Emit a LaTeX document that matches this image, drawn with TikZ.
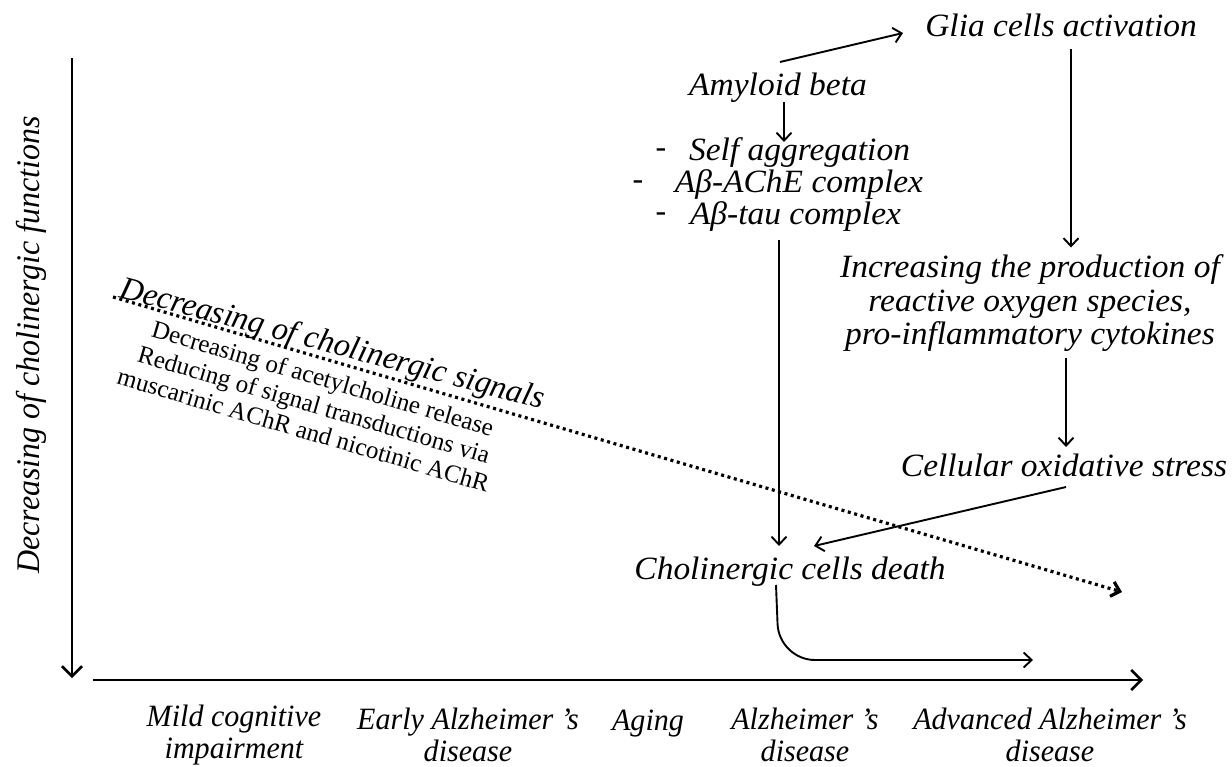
\documentclass[tikz,border=0pt]{standalone}
\usepackage{fontspec}
\setmainfont{Liberation Serif}
\newfontfamily\itf{Liberation Serif}[FakeStretch=1.03]
\newfontfamily\bof{Liberation Serif}[FakeStretch=1.0]
\newfontfamily\cof{Liberation Serif}[FakeStretch=0.97]
\usetikzlibrary{arrows.meta,calc}
\tikzset{
  lab/.style={inner sep=0pt, align=center, font=\itf\itshape\fontsize{32.5}{33.5}\selectfont},
  dsh/.style={inner sep=0pt, font=\bof\fontsize{32}{33}\selectfont},
  blab/.style={inner sep=0pt, align=center, font=\cof\itshape\fontsize{31}{32}\selectfont},
  sub/.style={inner sep=0pt, rotate=-16.3, anchor=base, font=\bof\fontsize{25}{27}\selectfont},
  ttl/.style={inner sep=0pt, rotate=-14.8, anchor=base, font=\bof\itshape\fontsize{32.5}{34}\selectfont},
  arr/.style={-{Straight Barb[length=8pt,width=15pt]}, line width=1.9pt},
  ax/.style={-{Straight Barb[length=10pt,width=20pt]}, line width=2.6pt},
  dotl/.style={-{Straight Barb[length=8pt,width=15pt]}, line width=3.2pt, dash pattern=on 3pt off 3.6pt},
}
\begin{document}
\begin{tikzpicture}[x=1pt,y=-1pt]
\useasboundingbox (0,0) rectangle (1232,766);
% axes
\coordinate (ytop) at (72,58);
\coordinate (ybot) at (72,678);
\coordinate (xl) at (93,680);
\coordinate (xr) at (1143,680);
\draw[ax] (ytop) -- (ybot);
\draw[ax] (xl) -- (xr);
\node[inner sep=0pt, rotate=90, font=\cof\itshape\fontsize{33}{34}\selectfont] (ylab) at (31,345) {Decreasing of cholinergic functions};
% bottom labels
\node[blab] (b1) at (234,735) {Mild cognitive\\impairment};
\node[blab] (b2) at (468,735) {Early Alzheimer ’s\\disease};
\node[blab, anchor=base] (b3) at (648,730) {Aging};
\node[blab] (b4) at (805,735) {Alzheimer ’s\\disease};
\node[blab] (b5) at (1050,735) {Advanced Alzheimer ’s\\disease};
% top nodes
\node[lab] (g) at (1061,25) {Glia cells activation};
\node[lab] (ab) at (778,88) {Amyloid beta};
\node[dsh] (d1) at (661,153) {-};
\node[lab] (s1) at (799.5,153) {Self aggregation};
\node[dsh] (d2) at (638,185) {-};
\node[lab] (s2) at (799,185) {Aβ-AChE complex};
\node[dsh] (d3) at (661,217) {-};
\node[lab] (s3) at (795.5,217) {Aβ-tau complex};
\node[lab] (inc) at (1030,303.5) {Increasing the production of\\reactive oxygen species,\\pro-inflammatory cytokines};
\node[lab] (co) at (1064,465) {Cellular oxidative stress};
\node[lab] (cd) at (790,572) {Cholinergic cells death};
% rotated texts
\node[ttl] (tl) at (330,353) {Decreasing of cholinergic signals};
\node[sub] (l1) at (320.5,386.5) {Decreasing of acetylcholine release};
\node[sub] (l2) at (311.7,412.6) {Reducing of signal transductions via};
\node[sub] (l3) at (301.2,438) {muscarinic AChR and nicotinic AChR};
% connectors
\coordinate (dend) at (1122,592);
\draw[dotl] ($(tl.base)+(-217,-56)$) -- (dend);
\draw[arr] ($(ab.center)+(2,-26)$) -- ($(g.center)+(-158,8)$);
\draw[arr] ($(ab.center)+(6,14)$) -- ($(s1.center)+(-15.5,-11)$);
\draw[arr] ($(s3.center)+(-16.5,23)$) -- ($(cd.center)+(-11,-26)$);
\draw[arr] ($(g.center)+(10,24)$) -- ($(inc.center)+(41,-56)$);
\draw[arr] ($(inc.center)+(36,54)$) -- ($(co.center)+(2,-18)$);
\draw[arr] ($(co.center)+(2,22)$) -- ($(cd.center)+(24,-26)$);
\draw[arr, rounded corners=36pt] ($(cd.center)+(-14,13)$) -- ($(cd.center)+(-11,88)$) -- ($(cd.center)+(243,88)$);
\end{tikzpicture}
\end{document}
